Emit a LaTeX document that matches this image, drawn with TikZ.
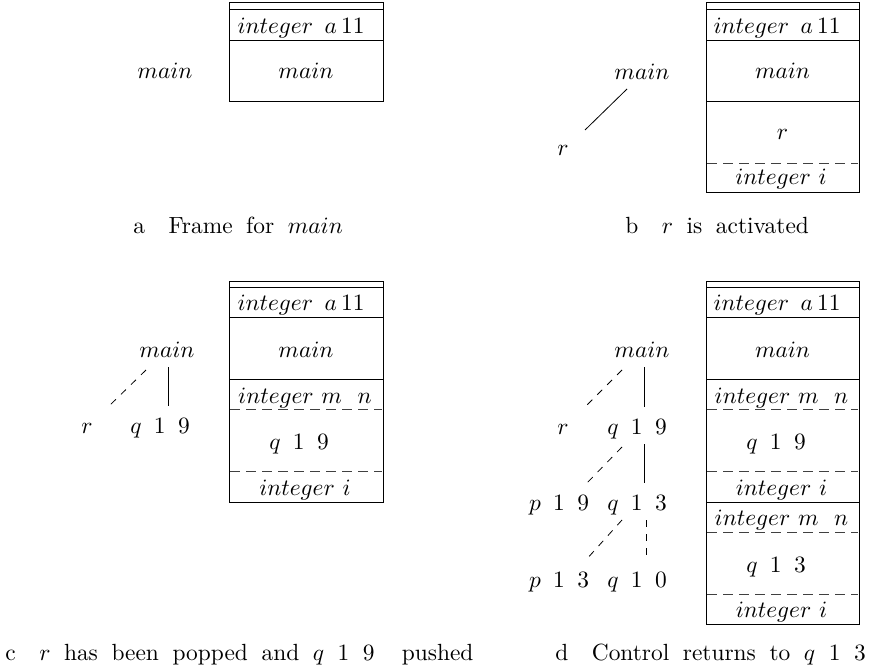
\documentclass[tikz,border=0pt]{standalone}
\begin{document}
\begin{tikzpicture}[x=1pt,y=-1pt,
  box/.style={line width=1pt},
  bdash/.style={line width=0.9pt, black!75, dash pattern=on 10pt off 6pt},
  tdash/.style={line width=0.8pt, dash pattern=on 7pt off 7pt},
  tline/.style={line width=0.8pt},
  lbl/.style={anchor=base, inner sep=0pt, scale=2.34},
  qlbl/.style={lbl, execute at begin node={\spaceskip=5.3pt\relax}},
  captxt/.style={anchor=base west, inner sep=0pt, scale=2.34,
    execute at begin node={\spaceskip=5.8pt\relax}}]
\useasboundingbox (0,0) rectangle (872,671);

% ---------- panel a ----------
\draw[box] (229,3) rectangle (383,102);
\draw[box] (229,10) -- (383,10);
\draw[box] (229,41) -- (383,41);
\node[lbl] (aglob) at (301,34) {$integer\ \,a\,11$};
\node[lbl] (amainbox) at (306,79) {$main$};
\node[lbl] (amain) at (165,79) {$main$};
\node[captxt] (capa) at (133,233) {a\quad Frame for $main$};

% ---------- panel b ----------
\draw[box] (706,3) rectangle (859,193);
\draw[box] (706,10) -- (859,10);
\draw[box] (706,41) -- (859,41);
\draw[box] (706,102) -- (859,102);
\draw[bdash] (707,163) -- (858,163);
\node[lbl] (bglob) at (777,34) {$integer\ \,a\,11$};
\node[lbl] (bmainbox) at (782.5,79) {$main$};
\node[lbl] (brbox) at (782.5,140) {$r$};
\node[lbl] (bibox) at (781,185) {$integer\ i$};
\node[lbl] (bmain) at (642,80) {$main$};
\node[lbl] (br) at (563,156) {$r$};
\coordinate (b1) at (627,89);
\coordinate (b2) at (585,130);
\draw[tline] (b1) -- (b2);
\node[captxt] (capb) at (625,233) {b\quad $r$ is activated};

% ---------- panel c ----------
\draw[box] (229,281) rectangle (383,502);
\draw[box] (229,287) -- (383,287);
\draw[box] (229,317) -- (383,317);
\draw[box] (229,379) -- (383,379);
\draw[bdash] (230,409) -- (382,409);
\draw[bdash] (230,471) -- (382,471);
\node[lbl] (cglob) at (301,310) {$integer\ \,a\,11$};
\node[lbl] (cmainbox) at (306,357) {$main$};
\node[lbl] (cmnbox) at (305,403) {$integer\ m\ \ n$};
\node[qlbl] (cqbox) at (299,449) {$q$ 1 9};
\node[lbl] (cibox) at (305,495) {$integer\ i$};
\node[lbl] (cmain) at (167,357) {$main$};
\node[lbl] (cr) at (87,433) {$r$};
\node[qlbl] (cq) at (160,433) {$q$ 1 9};
\coordinate (c1) at (146,370);
\coordinate (c2) at (108,407);
\coordinate (c3) at (168,367);
\coordinate (c4) at (168,406);
\draw[tdash] (c1) -- (c2);
\draw[tline] (c3) -- (c4);
\node[captxt] (capc) at (5,660) {c\quad $r$ has been popped and $q$ 1 9 \ pushed};

% ---------- panel d ----------
\draw[box] (706,281) rectangle (859,624);
\draw[box] (706,287) -- (859,287);
\draw[box] (706,317) -- (859,317);
\draw[box] (706,379) -- (859,379);
\draw[box] (706,502) -- (859,502);
\draw[bdash] (707,409) -- (858,409);
\draw[bdash] (707,471) -- (858,471);
\draw[bdash] (707,532) -- (858,532);
\draw[bdash] (707,594) -- (858,594);
\node[lbl] (dglob) at (777,310) {$integer\ \,a\,11$};
\node[lbl] (dmainbox) at (782.5,357) {$main$};
\node[lbl] (dmnbox) at (781.5,403) {$integer\ m\ \ n$};
\node[qlbl] (dq19box) at (776,449) {$q$ 1 9};
\node[lbl] (dibox) at (781.5,495) {$integer\ i$};
\node[lbl] (dmnbox2) at (781.5,525) {$integer\ m\ \ n$};
\node[qlbl] (dq13box) at (776,572) {$q$ 1 3};
\node[lbl] (dibox2) at (781.5,617) {$integer\ i$};
\node[lbl] (dmain) at (642,357) {$main$};
\node[lbl] (dr) at (563,434) {$r$};
\node[qlbl] (dq19) at (637,434) {$q$ 1 9};
\node[qlbl] (dp19) at (559,510) {$p$ 1 9};
\node[qlbl] (dq13) at (637,510) {$q$ 1 3};
\node[qlbl] (dp13) at (559,587) {$p$ 1 3};
\node[qlbl] (dq10) at (637,587) {$q$ 1 0};
\coordinate (d1) at (622,370);
\coordinate (d2) at (585,407);
\coordinate (d3) at (644,367);
\coordinate (d4) at (644,407);
\coordinate (d5) at (622,447);
\coordinate (d6) at (585,485);
\coordinate (d7) at (644,444);
\coordinate (d8) at (644,483);
\coordinate (d9) at (622,520);
\coordinate (d10) at (585,561);
\coordinate (d11) at (646,520);
\coordinate (d12) at (646,555);
\draw[tdash] (d1) -- (d2);
\draw[tline] (d3) -- (d4);
\draw[tdash] (d5) -- (d6);
\draw[tline] (d7) -- (d8);
\draw[tdash] (d9) -- (d10);
\draw[tdash] (d11) -- (d12);
\node[captxt] (capd) at (555,660) {d\quad Control returns to $q$ 1 3};
\end{tikzpicture}
\end{document}
